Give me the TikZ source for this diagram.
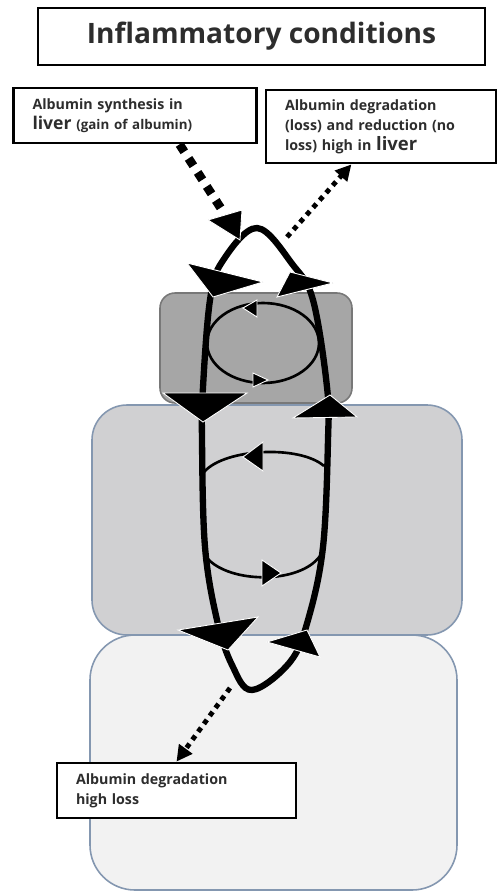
\documentclass[tikz,border=0pt]{standalone}
\usepackage{fontspec}
\setmainfont{Open Sans}
\usetikzlibrary{arrows.meta}

\definecolor{palegray}{RGB}{242,242,242}
\definecolor{midgray}{RGB}{208,208,210}
\definecolor{darkgray}{RGB}{166,166,166}
\definecolor{bordblue}{RGB}{132,151,176}
\definecolor{bordgray}{RGB}{120,120,120}
\definecolor{inkgray}{RGB}{45,45,45}

\begin{document}
\begin{tikzpicture}[x=0.02cm, y=-0.02cm,
    labelbox/.style={rectangle, draw, line width=1.6pt, fill=white, text=inkgray, align=left, inner xsep=0.38cm, font=\bfseries\fontsize{8.1}{11.3}\selectfont},
    compart/.style={draw=#1, line width=0.9pt},
    bigloop/.style={line width=3.6pt},
    smallloop/.style={line width=1.5pt},
    tri/.style={fill=black, draw=white, line width=0.5pt},
    heavydash/.style={line width=5pt, dash pattern=on 5pt off 4.5pt},
    dotline/.style={line width=2.8pt, dash pattern=on 2.8pt off 2.8pt, -{Triangle[length=9pt, width=9pt]}},
]
\useasboundingbox (0,0) rectangle (497,892);

% compartments
\draw[compart=bordblue, fill=palegray, rounded corners=0.9cm] (90,635) rectangle (457,890);
\draw[compart=bordblue, fill=midgray, rounded corners=0.7cm] (92,405) rectangle (462,635);
\draw[compart=bordgray, fill=darkgray, rounded corners=0.3cm] (160,293) rectangle (352,403);

% text boxes
\node[labelbox, minimum width=8.94cm, minimum height=1.14cm, align=center, font=\bfseries\fontsize{16}{19}\selectfont] (title) at (261.5,36.5) {Inflammatory conditions};
\node[labelbox, text width=4.1cm, minimum height=1.1cm] (synth) at (135,115.5)
  {Albumin synthesis in\\{\fontsize{10}{12.5}\selectfont liver} {\fontsize{7.6}{8}\selectfont (gain of albumin)}};
\node[labelbox, text width=3.84cm, minimum height=1.46cm] (degrade) at (381,126.5)
  {Albumin degradation\\(loss) and reduction (no\\loss) high in {\fontsize{10.5}{11.3}\selectfont liver}};
\node[labelbox, text width=4.02cm, minimum height=1.1cm] (loss) at (176.5,790.5)
  {Albumin degradation\\high loss};

% big loop
\draw[bigloop] plot[smooth cycle, tension=0.6] coordinates {(257,228) (293,265) (313,300) (327,387) (328,440) (323,547) (308,620) (290,662) (252,690) (232,665) (217,620) (205,547) (202,440) (203,387) (210,300) (222,262)};

% inner loops
\draw[smallloop] (263,343) ellipse [x radius=1.12cm, y radius=0.8cm];
\draw[smallloop] (204,472) .. controls (225,448) and (300,445) .. (324,466);
\draw[smallloop] (207,558) .. controls (230,584) and (300,584) .. (320,556);

% arrowheads on the loops
\fill[tri] (243,308) -- (257,300) -- (257,317) -- cycle;
\fill[tri] (268,380) -- (253,373) -- (253,387) -- cycle;
\fill[tri] (243,457) -- (263,442) -- (263,471) -- cycle;
\fill[tri] (281,573) -- (262,560) -- (262,586) -- cycle;
\fill[tri] (208,220) -- (242,210) -- (240,240) -- cycle;
\fill[tri] (187,263) -- (263,282) -- (213,297) -- cycle;
\fill[tri] (277,297) -- (290,272) -- (333,283) -- cycle;
\fill[tri] (163,393) -- (247,393) -- (203,422) -- cycle;
\fill[tri] (293,418) -- (357,417) -- (330,395) -- cycle;
\fill[tri] (178,630) -- (258,617) -- (228,650) -- cycle;
\fill[tri] (267,642) -- (307,630) -- (320,657) -- cycle;

% exchanges with the liver and loss
\coordinate (intop) at (222,210);
\coordinate (outtop) at (287,237);
\coordinate (outbot) at (230,688);
\draw[heavydash] (synth.-33) -- (intop);
\draw[dotline] (outtop) -- (degrade.-128);
\draw[dotline] (outbot) -- (loss.north);

\end{tikzpicture}
\end{document}
